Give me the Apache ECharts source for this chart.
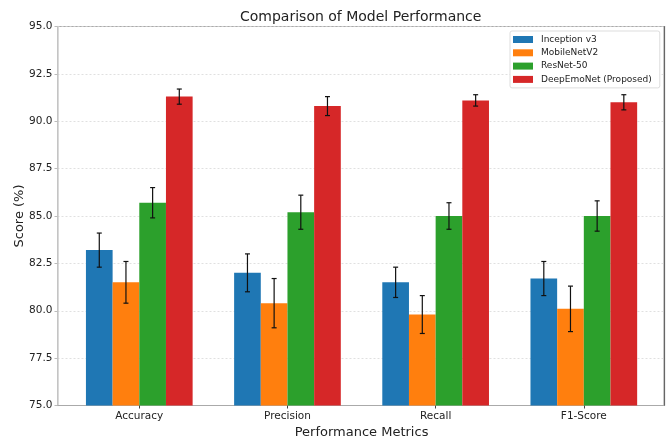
<!DOCTYPE html>
<html>
<head>
<meta charset="utf-8">
<script src="https://cdn.jsdelivr.net/npm/echarts@6/dist/echarts.min.js"></script>
<style>html,body{margin:0;padding:0;background:#fff}#c{width:672px;height:438px}</style>
</head>
<body>
<div id="c"></div>
<script>
const categories = ['Accuracy', 'Precision', 'Recall', 'F1-Score'];
const seriesNames = ['Inception v3', 'MobileNetV2', 'ResNet-50', 'DeepEmoNet (Proposed)'];
const inception = [83.2, 82.0, 81.5, 81.7];
const inceptionErr = [0.9, 1.0, 0.8, 0.9];
const mobilenet = [81.5, 80.4, 79.8, 80.1];
const mobilenetErr = [1.1, 1.3, 1.0, 1.2];
const resnet = [85.7, 85.2, 85.0, 85.0];
const resnetErr = [0.8, 0.9, 0.7, 0.8];
const deepemo = [91.3, 90.8, 91.1, 91.0];
const deepemoErr = [0.4, 0.5, 0.3, 0.4];
const yTicks = [75.0, 77.5, 80.0, 82.5, 85.0, 87.5, 90.0, 92.5, 95.0];

const colors = ['#1f77b4', '#ff7f0e', '#2ca02c', '#d62728'];
const values = [inception, mobilenet, resnet, deepemo];
const errs = [inceptionErr, mobilenetErr, resnetErr, deepemoErr];
const BAR_FRAC = 0.18;
const FONT = 'DejaVu Sans';

const chart = echarts.init(document.getElementById('c'), null, {renderer: 'canvas'});

const barSeries = seriesNames.map((name, k) => ({
  name: name,
  type: 'bar',
  xAxisIndex: 1,
  yAxisIndex: 2,
  data: values[k],
  barWidth: (BAR_FRAC * 100) + '%',
  barGap: '0%',
  itemStyle: {color: colors[k]},
  emphasis: {disabled: true},
  z: 2
}));

const errSeries = seriesNames.map((name, k) => ({
  name: 'err_' + k,
  type: 'custom',
  xAxisIndex: 1,
  yAxisIndex: 2,
  silent: true,
  z: 5,
  encode: {x: 0, y: 1},
  data: values[k].map((v, i) => [i, v, errs[k][i]]),
  renderItem: function (params, api) {
    const idx = api.value(0), v = api.value(1), e = api.value(2);
    const cw = api.size([1, 0])[0];
    const bw = cw * BAR_FRAC;
    const c = api.coord([idx, v]);
    const x = c[0] + (k - 1.5) * bw;
    const yt = api.coord([idx, v + e])[1];
    const yb = api.coord([idx, v - e])[1];
    const cap = 2.5;
    const st = {stroke: '#111', lineWidth: 1.2};
    return {
      type: 'group',
      children: [
        {type: 'line', shape: {x1: x, y1: yt, x2: x, y2: yb}, style: st},
        {type: 'line', shape: {x1: x - cap, y1: yt, x2: x + cap, y2: yt}, style: st},
        {type: 'line', shape: {x1: x - cap, y1: yb, x2: x + cap, y2: yb}, style: st}
      ]
    };
  }
}));

const option = {
  animation: false,
  backgroundColor: '#fff',
  textStyle: {fontFamily: FONT},
  title: {
    text: 'Comparison of Model Performance',
    left: 235,
    top: 5,
    textStyle: {fontFamily: FONT, fontSize: 14, fontWeight: 'normal', color: '#222'}
  },
  legend: {
    data: seriesNames,
    orient: 'vertical',
    left: 510,
    top: 31,
    padding: [3, 8, 3, 3],
    itemWidth: 20,
    itemHeight: 7,
    itemGap: 2.3,
    icon: 'rect',
    backgroundColor: '#fff',
    borderColor: '#ddd',
    borderWidth: 1,
    borderRadius: 2,
    selectedMode: false,
    textStyle: {fontFamily: FONT, fontSize: 9, color: '#222', lineHeight: 11, padding: [0, 0, 0, 3]}
  },
  grid: [
    {left: 57.5, right: 8, top: 26.5, bottom: 32.5, outerBoundsMode: 'none', containLabel: false, show: true, borderColor: '#aaa', borderWidth: 1, backgroundColor: 'transparent'},
    {left: 65.2, right: 14.1, top: 26.5, bottom: 32.5, outerBoundsMode: 'none', containLabel: false}
  ],
  xAxis: [
    {
      type: 'category', gridIndex: 0, data: categories,
      axisLine: {show: true, lineStyle: {color: '#aaa', width: 1.2}},
      axisTick: {show: false}, axisLabel: {show: false}, splitLine: {show: false}
    },
    {
      type: 'category', gridIndex: 1, data: categories,
      axisLine: {show: false},
      axisTick: {show: true, alignWithLabel: true, length: 3, lineStyle: {color: '#444'}},
      axisLabel: {margin: 5, fontFamily: FONT, fontSize: 10.5, color: '#222'},
      name: 'Performance Metrics',
      nameLocation: 'middle',
      nameGap: 21,
      nameMoveOverlap: false,
      nameTextStyle: {fontFamily: FONT, fontSize: 13, color: '#222'}
    }
  ],
  yAxis: [
    {
      type: 'value', gridIndex: 0, min: yTicks[0], max: yTicks[yTicks.length - 1], interval: 2.5,
      axisLine: {show: true, lineStyle: {color: '#ccc', width: 1.5}},
      axisTick: {show: true, length: 3, lineStyle: {color: '#bbb'}},
      axisLabel: {margin: 5, fontFamily: FONT, fontSize: 10.5, color: '#222', formatter: v => v.toFixed(1)},
      splitLine: {show: true, lineStyle: {color: '#d8d8d8', type: [2, 2], width: 0.8}},
      name: 'Score (%)',
      nameLocation: 'middle',
      nameGap: 31,
      nameMoveOverlap: false,
      nameTextStyle: {fontFamily: FONT, fontSize: 13, color: '#222'}
    },
    {
      type: 'value', gridIndex: 0, position: 'right', min: yTicks[0], max: yTicks[yTicks.length - 1], interval: 2.5,
      axisLine: {show: true, lineStyle: {color: '#666', width: 1.2}},
      axisTick: {show: false}, axisLabel: {show: false}, splitLine: {show: false}
    },
    {
      type: 'value', gridIndex: 1, min: yTicks[0], max: yTicks[yTicks.length - 1], interval: 2.5,
      show: false, splitLine: {show: false}
    }
  ],
  series: barSeries.concat(errSeries)
};
chart.setOption(option);
</script>
</body>
</html>
